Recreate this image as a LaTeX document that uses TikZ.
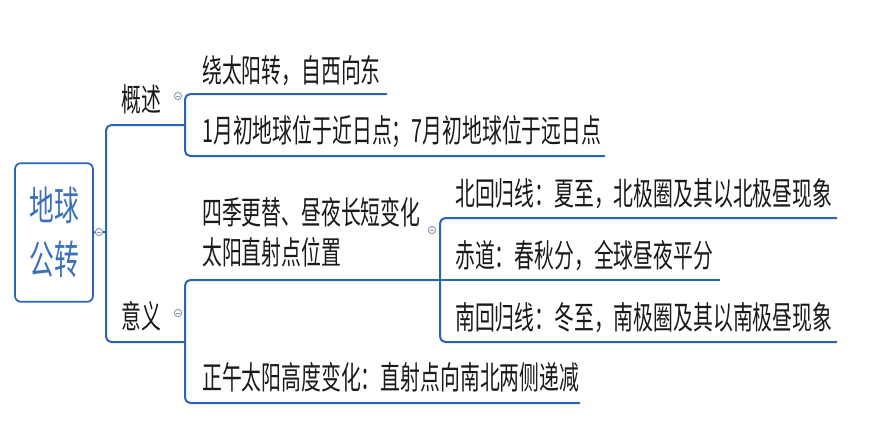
\documentclass[tikz,border=0pt]{standalone}
\usepackage{fontspec}
\setmainfont{Noto Sans CJK SC}[FakeStretch=0.62]
\usepackage{tikz}

\definecolor{lineblue}{RGB}{42,100,180}
\definecolor{rootblue}{RGB}{58,112,186}
\definecolor{textgray}{RGB}{26,26,26}
\definecolor{foldgray}{RGB}{138,155,181}

\tikzset{
  branch/.style={draw=lineblue, line width=1.5pt, rounded corners=4pt},
  topic/.style={anchor=base west, inner sep=0pt, text=textgray, font=\fontsize{24}{30}\selectfont},
  rootbox/.style={draw=lineblue, line width=1.3pt, rounded corners=4.5pt, minimum width=58.5pt, minimum height=104pt, text=rootblue, align=center, font=\fontsize{30}{40.5}\selectfont},
  fold/.style={circle, draw=foldgray, line width=0.7pt, fill=white, inner sep=0pt, minimum size=5.5pt}
}

\begin{document}
\begin{tikzpicture}[x=0.75pt,y=0.75pt,yscale=-1,xscale=1]
\useasboundingbox (0,0) rectangle (880,428);

%Root
\node [rootbox] (root) at (54,232.5) {地球\\公转};

%Coordinates of the underlines
\coordinate (mid) at (106,232);
\coordinate (gai-l) at (106,125);
\coordinate (gai-r) at (185,125);
\coordinate (yi-l) at (106,342);
\coordinate (yi-r) at (185,342);
\coordinate (k1-l) at (185,94);
\coordinate (k1-r) at (387,94);
\coordinate (k2-l) at (185,156);
\coordinate (k2-r) at (605,156);
\coordinate (y1-l) at (185,280);
\coordinate (y1-r) at (440,280);
\coordinate (y2-l) at (185,403);
\coordinate (y2-r) at (580,403);
\coordinate (s1-l) at (440,218);
\coordinate (s1-r) at (837,218);
\coordinate (s2-r) at (720,280);
\coordinate (s3-l) at (440,342);
\coordinate (s3-r) at (837,342);

%Main branch
\draw [branch] (root.east) -- (mid);
\draw [branch] (gai-r) -- (gai-l) -- (yi-l) -- (yi-r);
%概述 children
\draw [branch] (k1-r) -- (k1-l) -- (k2-l) -- (k2-r);
%意义 children
\draw [branch] (y1-r) -- (y1-l) -- (y2-l) -- (y2-r);
%太阳直射点位置 children
\draw [branch] (s1-r) -- (s1-l) -- (s3-l) -- (s3-r);
\draw [branch] (y1-r) -- (s2-r);

% Text Node
\node [topic] (gaishu) at (121,111) {概述};
% Text Node
\node [topic] (yiyi) at (121,328) {意义};
% Text Node
\node [topic] (rao) at (202,82) {绕太阳转，自西向东};
% Text Node
\node [topic] (jinri) at (202,142) {1月初地球位于近日点；7月初地球位于远日点};
% Text Node
\node [topic, align=left] (zhishe) at (202,264) {四季更替、昼夜长短变化\\太阳直射点位置};
% Text Node
\node [topic] (zhengwu) at (202,389) {正午太阳高度变化：直射点向南北两侧递减};
% Text Node
\node [topic] (bei) at (455,205) {北回归线：夏至，北极圈及其以北极昼现象};
% Text Node
\node [topic] (chi) at (455,267) {赤道：春秋分，全球昼夜平分};
% Text Node
\node [topic] (nan) at (455,329) {南回归线：冬至，南极圈及其以南极昼现象};

%Fold marks
\foreach \n/\x/\y in {f0/99/232, f1/178/96, f2/178/313, f3/432/230} {
  \node [fold] (\n) at (\x,\y) {};
  \draw [foldgray, line width=0.6pt] ([xshift=-1.5pt]\n.center) -- ([xshift=1.5pt]\n.center);
}

\end{tikzpicture}
\end{document}
